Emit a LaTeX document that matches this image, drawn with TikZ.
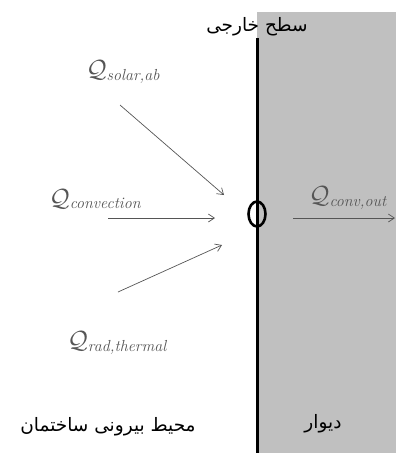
\documentclass[tikz,border=0pt]{standalone}
\usepackage{fontspec}
\newfontfamily\arabicfont[Script=Arabic]{DejaVu Sans}
\TeXXeTstate=1
\usetikzlibrary{shapes.geometric, arrows.meta}
\definecolor{muro}{HTML}{C0C0C0}
\definecolor{tinta}{HTML}{555555}
\newcommand{\flujoQ}[1]{{\fontsize{25}{27}\selectfont$\mathcal{Q}$}\raisebox{-0.6ex}{\itshape\fontsize{16}{18}\selectfont #1}}

\begin{document}
\begin{tikzpicture}[x=1pt, y=-1pt,
        flujo/.style={text=tinta, inner sep=1pt},
        rotulo/.style={inner sep=1pt, font=\arabicfont\fontsize{18.5}{20}\selectfont},
        flecha/.style={-{Straight Barb[length=6pt, width=8pt]}, draw=tinta, line width=0.7pt}
    ]
    \useasboundingbox (0,0) rectangle (396,453);
    \fill [muro] (257,12) rectangle (396,453);
    \draw [line width=3pt] (257,38) -- (257,453);

    \node (superficie) [rotulo] at (257,27) {\beginR سطح خارجی\endR};
    \node (punto) [ellipse, draw, line width=2.6pt, minimum width=17pt, minimum height=25pt, inner sep=0pt] at (257,214) {};

    \node (qsolar) [flujo] at (123,72) {\flujoQ{solar,ab}};
    \node (qconv) [flujo] at (95,199) {\flujoQ{convection}};
    \node (qrad) [flujo] at (117,343) {\flujoQ{rad,thermal}};
    \node (qout) [flujo, anchor=west] at (308,198) {\flujoQ{conv,out}};

    \coordinate (solarA) at (120,105);
    \coordinate (solarB) at (224,195);
    \coordinate (convA) at (108,218);
    \coordinate (convB) at (215,218);
    \coordinate (radA) at (118,292);
    \coordinate (radB) at (222,245);
    \coordinate (outA) at (293,218);
    \coordinate (outB) at (395,218);

    \draw [flecha] (solarA) -- (solarB);
    \draw [flecha] (convA) -- (convB);
    \draw [flecha] (radA) -- (radB);
    \draw [flecha] (outA) -- (outB);

    \node (exterior) [rotulo] at (108,427) {\beginR محیط بیرونی ساختمان\endR};
    \node (pared) [rotulo] at (323,424) {\beginR دیوار\endR};
\end{tikzpicture}
\end{document}
